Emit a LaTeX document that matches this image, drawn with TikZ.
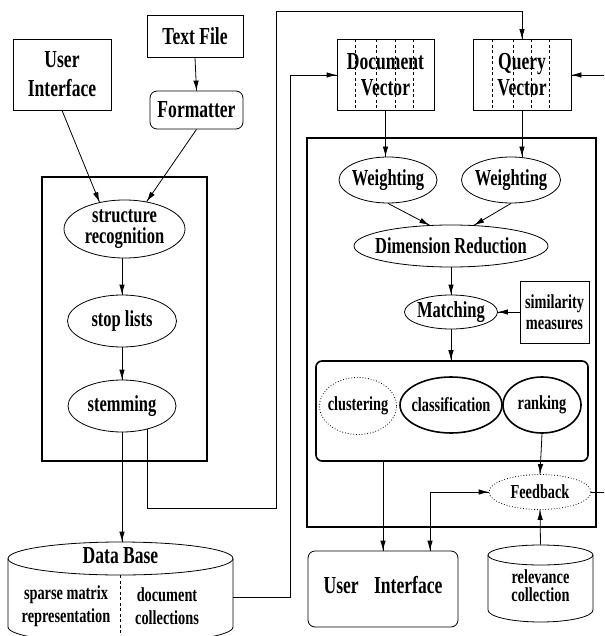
\documentclass[tikz,border=0pt]{standalone}
\usepackage{fontspec}
\setmainfont{Liberation Serif}[FakeStretch=0.72]
\usetikzlibrary{shapes.geometric,
                 arrows.meta,
                 decorations.markings}
\tikzset{->/.style = {decoration={markings, mark=at position 1 with {\arrow{Latex[length=10pt,width=5.5pt]}}}, postaction={decorate}}}
\tikzset{<->/.style = {decoration={markings, mark=at position 0 with {\arrowreversed{Latex[length=10pt,width=5.5pt]}}, mark=at position 1 with {\arrow{Latex[length=10pt,width=5.5pt]}}}, postaction={decorate}}}
\tikzset{bigtext/.style = {font=\fontsize{24.4}{26}\selectfont\bfseries},
         midtext/.style = {font=\fontsize{22.9}{21}\selectfont\bfseries},
         smalltext/.style = {font=\fontsize{19.9}{21.5}\selectfont\bfseries},
         box/.style = {draw, rectangle, inner sep=0pt, align=center},
         oval/.style = {draw, ellipse, inner xsep=-10pt, inner ysep=0pt, align=center},
         frame/.style = {draw, rectangle, line width=1.6pt, inner sep=0pt},
         vdash/.style = {dash pattern=on 3pt off 2.5pt, line width=0.6pt}}

\begin{document}
\begin{tikzpicture}[x=1pt, y=-1pt, line width=0.8pt]
    \useasboundingbox (0,0) rectangle (604,636);
    \clip (0,0) rectangle (604,636);
    % left part
    \node[box, bigtext, font=\fontsize{24.4}{29}\selectfont\bfseries, minimum width=98, minimum height=71] (uiA) at (62,74.5) {User\\Interface};
    \node[box, bigtext, minimum width=96, minimum height=42] (tfile) at (195,36) {Text File};
    \node[box, bigtext, rounded corners=7pt, minimum width=93, minimum height=38] (fmt) at (196.5,110) {Formatter};
    \node[frame, minimum width=165, minimum height=284] (prep) at (124.5,319) {};
    \node[oval, midtext, minimum width=121, minimum height=58] (struct) at (124.5,229) {structure\\recognition};
    \node[oval, midtext, minimum width=109, minimum height=52] (stop) at (122,321) {stop lists};
    \node[oval, midtext, minimum width=108, minimum height=52] (stem) at (122,406) {stemming};
    % data base
    \node[inner sep=0pt, minimum width=225, minimum height=101] (dbase) at (120.5,592.5) {};
    \draw (120.5,558.5) ellipse [x radius=112.5, y radius=16.5];
    \draw (8,558.5) -- (8,627) arc [start angle=180, end angle=0, x radius=112.5, y radius=16.5] -- (233,558.5);
    \draw[vdash] (120.5,575) -- (120.5,650);
    \node[bigtext] (dbtitle) at (120.5,555.5) {Data Base};
    \node[smalltext, font=\fontsize{19.9}{23}\selectfont\bfseries, align=center] (sparse) at (66,606) {sparse matrix\\representation};
    \node[smalltext, font=\fontsize{19.9}{23}\selectfont\bfseries, align=center] (doccoll) at (167,606) {document\\collections};
    % right part
    \draw[vdash] (355,39.5) -- (355,110.5) (376,39.5) -- (376,110.5) (395,39.5) -- (395,110.5) (413,39.5) -- (413,110.5);
    \draw[vdash] (492,39.5) -- (492,110.5) (513,39.5) -- (513,110.5) (531,39.5) -- (531,110.5) (549,39.5) -- (549,110.5);
    \node[box, bigtext, minimum width=97, minimum height=71] (docvec) at (385.5,75) {Document\\Vector};
    \node[box, bigtext, minimum width=98, minimum height=71] (qryvec) at (522,75) {Query\\Vector};
    \node[frame, minimum width=289, minimum height=389] (match) at (451.5,332.5) {};
    \node[oval, midtext, minimum width=98, minimum height=46] (wdoc) at (388,180) {Weighting};
    \node[oval, midtext, minimum width=99, minimum height=46] (wqry) at (511,180) {Weighting};
    \node[oval, midtext, minimum width=194, minimum height=42] (dimred) at (451,246) {Dimension Reduction};
    \node[oval, midtext, minimum width=93, minimum height=34] (matching) at (451,312) {Matching};
    \node[box, smalltext, minimum width=69, minimum height=62] (simil) at (554.5,312) {similarity\\measures};
    \node[frame, rounded corners=6pt, minimum width=272, minimum height=100] (results) at (452,411) {};
    \node[oval, smalltext, dotted, minimum width=77, minimum height=57] (clust) at (358,406) {clustering};
    \node[oval, smalltext, line width=1.6pt, minimum width=102, minimum height=56] (classif) at (451,405) {classification};
    \node[oval, smalltext, line width=1.6pt, minimum width=78, minimum height=56] (rank) at (542,405) {ranking};
    \node[oval, smalltext, dotted, minimum width=102, minimum height=35] (feedb) at (540,492) {Feedback};
    \node[box, bigtext, rounded corners=7pt, text height=16pt, text depth=8pt, minimum width=150, minimum height=76] (uiB) at (383,589) {User\hspace{11pt} Interface};
    % relevance collection
    \node[inner sep=0pt, minimum width=105, minimum height=77] (relcoll) at (540.5,583.5) {};
    \draw (540.5,555) ellipse [x radius=52.5, y radius=10];
    \draw (488,555) -- (488,610) arc [start angle=180, end angle=0, x radius=52.5, y radius=12] -- (593,555);
    \node[smalltext, font=\fontsize{19.9}{18}\selectfont\bfseries, align=center] (reltext) at (540.5,586) {relevance\\collection};
    % connectors
    \draw[->] (uiA.south) -- (struct.133);
    \draw[->] (tfile.south) -- (fmt.north);
    \draw[->] (fmt.south) -- (struct.51);
    \draw[->] (stop.north |- struct.south) -- (stop.north);
    \draw[->] (stop.south) -- (stem.north);
    \draw[->] (stem.south) -- (stem.south |- dbase.north);
    \draw[->] (stem.-43) |- (276,508) -- (276,11) -| (qryvec.north);
    \draw[->] ([yshift=-4.5pt]dbase.east) -| (290,75) -- (docvec.west);
    \draw[->] (docvec.south) -- (docvec.south |- wdoc.north);
    \draw[->] (qryvec.south) -- (qryvec.south |- wqry.north);
    \draw[->] (wdoc.south) -- (dimred.136);
    \draw[->] (wqry.south) -- (dimred.42);
    \draw[->] (dimred.south) -- (matching.north);
    \draw[->] (simil.west) -- (matching.east);
    \draw[->] (matching.south) -- (matching.south |- results.north);
    \draw[->] (rank.south) -- (feedb.north);
    \draw[->] (relcoll.north) -- (feedb.south);
    \draw[->] (results.south -| uiB.north) -- (uiB.north);
    \draw[<->] ([xshift=47pt]uiB.north) |- (feedb.west);
    \draw[->] (feedb.east) -- ++(24,0) |- (qryvec.east);
\end{tikzpicture}
\end{document}
